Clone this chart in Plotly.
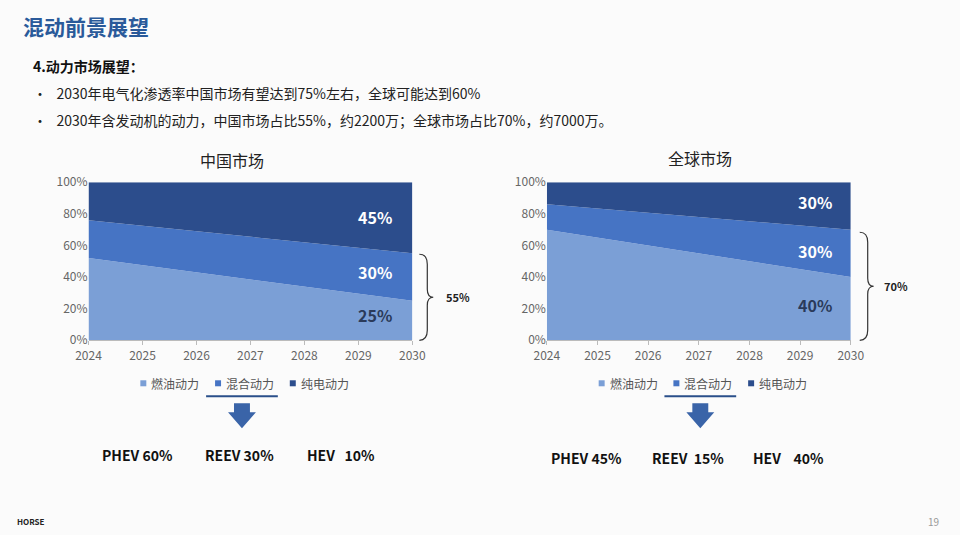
import plotly.graph_objects as go

years = [2024, 2025, 2026, 2027, 2028, 2029, 2030]
series_names = ["燃油动力", "混合动力", "纯电动力"]
cn_fuel = [52, 47.5, 43, 38.5, 34, 29.5, 25]
cn_hybrid = [24, 25, 26, 27, 28, 29, 30]
cn_ev = [24, 27.5, 31, 34.5, 38, 41.5, 45]
gl_fuel = [70, 65, 60, 55, 50, 45, 40]
gl_hybrid = [16, 18.3, 20.7, 23, 25.3, 27.7, 30]
gl_ev = [14, 16.7, 19.3, 22, 24.7, 27.3, 30]
y_ticks = [0, 20, 40, 60, 80, 100]
y_labels = ["0%", "20%", "40%", "60%", "80%", "100%"]
colors = ["#7b9fd6", "#4674c4", "#2c4d8c"]

W, H = 960, 535
AX, BX, AY, BY = 0.9754, 12.2, 0.968, 9.8
def px(x): return ((x - BX) / AX) / W
def py(y): return 1 - ((y - BY) / AY) / H

fig = go.Figure()
for k, (xa, ya, data) in enumerate([("x", "y", [cn_fuel, cn_hybrid, cn_ev]),
                                     ("x2", "y2", [gl_fuel, gl_hybrid, gl_ev])]):
    for name, vals, c in zip(series_names, data, colors):
        fig.add_trace(go.Scatter(x=years, y=vals, stackgroup="s%d" % k, name=name,
                                 line=dict(width=0, color=c), fillcolor=c, mode="lines",
                                 xaxis=xa, yaxis=ya, showlegend=False))

axstyle = dict(showgrid=False, zeroline=False, tickfont=dict(size=12, color="#666", family="Noto Sans CJK SC"))
xst = dict(range=[2024, 2030], tickvals=years, showline=True, linecolor="#bbb",
           ticks="outside", tickcolor="#bbb", ticklen=4, **axstyle)
yst = dict(range=[0, 100], tickvals=y_ticks, ticktext=y_labels, **axstyle)
fig.update_layout(
    autosize=True, margin=dict(l=0, r=0, t=0, b=0),
    paper_bgcolor="#fbfbfb", plot_bgcolor="#fbfbfb",
    xaxis=dict(domain=[px(88), px(413)], anchor="y", **xst),
    yaxis=dict(domain=[py(340), py(182)], anchor="x", **yst),
    xaxis2=dict(domain=[px(548), px(853)], anchor="y2", **xst),
    yaxis2=dict(domain=[py(340), py(182)], anchor="x2", **yst),
)

F = "Noto Sans CJK SC"
def text(x, y, s, size, color="#222", bold=False, xanchor="left"):
    fig.add_annotation(x=px(x), y=py(y), xref="paper", yref="paper", text=("<b>%s</b>" % s) if bold else s,
                       showarrow=False, xanchor=xanchor, yanchor="middle",
                       font=dict(size=size, color=color, family=F))

text(20, 26, "混动前景展望", 21, "#2a5a9a", True)
text(30, 66, "4.动力市场展望：", 14, "#111", True)
text(30, 93, "•   2030年电气化渗透率中国市场有望达到75%左右，全球可能达到60%", 14, "#222")
text(30, 120, "•   2030年含发动机的动力，中国市场占比55%，约2200万；全球市场占比70%，约7000万。", 14, "#222")
text(232, 160, "中国市场", 16, "#222", xanchor="center")
text(702, 158, "全球市场", 16, "#222", xanchor="center")

text(395, 217, "45%", 16, "white", True, "right")
text(395, 272, "30%", 16, "white", True, "right")
text(395, 315, "25%", 16, "#2a3a5a", True, "right")
text(836, 202, "30%", 16, "white", True, "right")
text(836, 251, "30%", 16, "white", True, "right")
text(836, 305, "40%", 16, "#2a3a5a", True, "right")

text(445, 297, "55%", 11, "#222", True)
text(884, 286, "70%", 11, "#222", True)

for ox in [0, 460]:
    for i, (name, c) in enumerate(zip(series_names, colors)):
        lx = 140 + ox + i * 75
        fig.add_shape(type="rect", xref="paper", yref="paper", x0=px(lx), x1=px(lx + 6),
                      y0=py(386), y1=py(380), fillcolor=c, line_width=0)
        text(lx + 9, 383, name, 12, "#555")
    fig.add_shape(type="line", xref="paper", yref="paper", x0=px(206 + ox), x1=px(278 + ox),
                  y0=py(396), y1=py(396), line=dict(color="#2a4f8a", width=2))

for cx in [242, 702]:
    pts = [(cx - 8, 403), (cx + 8, 403), (cx + 8, 412), (cx + 14, 412), (cx, 428), (cx - 14, 412), (cx - 8, 412)]
    path = "M " + " L ".join("%f,%f" % (px(a), py(b)) for a, b in pts) + " Z"
    fig.add_shape(type="path", xref="paper", yref="paper", path=path, fillcolor="#3a64a8", line_width=0)

def brace(x, y0, y1):
    m = (y0 + y1) / 2
    w = 8
    p = ("M {a},{b} Q {c},{b} {c},{d} L {c},{e} Q {c},{m} {f},{m} Q {c},{m} {c},{g} L {c},{h} Q {c},{y1} {a},{y1b}"
         ).format(a=px(x), b=py(y0), c=px(x + w), d=py(y0 + 10), e=py(m - 8), m=py(m), f=px(x + w + 6),
                  g=py(m + 8), h=py(y1 - 10), y1=py(y1), y1b=py(y1))
    fig.add_shape(type="path", xref="paper", yref="paper", path=p, line=dict(color="#333", width=1.2))
brace(420, 254, 340)
brace(862, 232, 340)

text(100, 455, "PHEV 60%", 14, "#111", True)
text(203, 455, "REEV 30%", 14, "#111", True)
text(305, 455, "HEV   10%", 14, "#111", True)
text(550, 458, "PHEV 45%", 14, "#111", True)
text(652, 458, "REEV  15%", 14, "#111", True)
text(753, 458, "HEV    40%", 14, "#111", True)

text(14, 521, "HORSE", 8, "#222", True)
text(944, 521, "19", 10, "#999", xanchor="right")

fig.write_html("out.html", default_width="100%", default_height="100%",
               config={"displayModeBar": False, "responsive": True})
with open("out.html", encoding="utf-8") as f:
    html = f.read()
html = html.replace("<head>", "<head><style>html,body{margin:0;padding:0;height:100%;width:100%;overflow:hidden;background:#fbfbfb}</style>", 1)
with open("out.html", "w", encoding="utf-8") as f:
    f.write(html)
